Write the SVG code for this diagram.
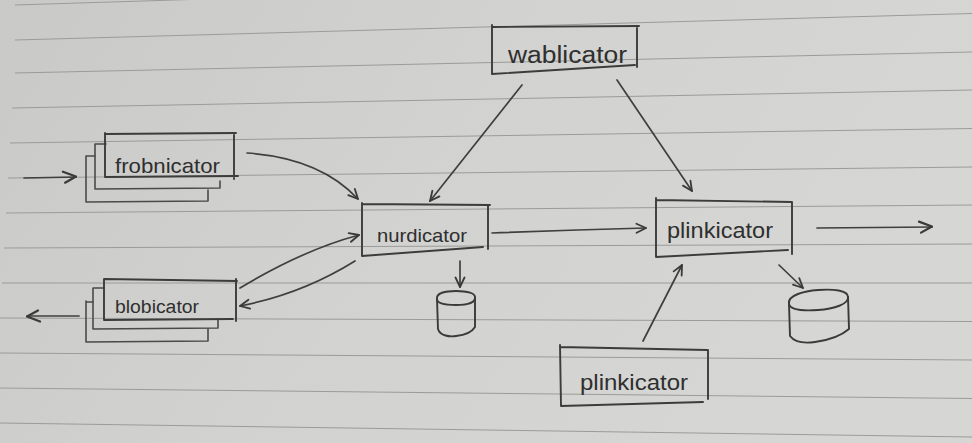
<svg xmlns="http://www.w3.org/2000/svg" width="972" height="443" viewBox="0 0 972 443">
<defs>
<linearGradient id="paper" x1="0" y1="0" x2="1" y2="0.3">
<stop offset="0" stop-color="#c9c9c7"/>
<stop offset="0.5" stop-color="#d2d2d0"/>
<stop offset="1" stop-color="#d6d6d4"/>
</linearGradient>
<marker id="arr" viewBox="0 0 12 12" refX="11" refY="6" markerWidth="12" markerHeight="12" markerUnits="userSpaceOnUse" orient="auto">
<path d="M1.5,1.5 L11,6 L1.5,10.5" fill="none" stroke="#3a3a3a" stroke-width="1.8" stroke-linecap="round" stroke-linejoin="round"/>
</marker>
<marker id="arrBig" viewBox="0 0 16 14" refX="15" refY="7" markerWidth="16" markerHeight="14" markerUnits="userSpaceOnUse" orient="auto">
<path d="M2,1.5 L15,6.5 L4,12.5" fill="none" stroke="#3a3a3a" stroke-width="2.2" stroke-linecap="round" stroke-linejoin="round"/>
</marker>
</defs>
<style>
.rule{fill:none;stroke:#9b9b99;stroke-width:1}
.box{fill:none;stroke:#3c3c3c;stroke-width:1.9;stroke-linecap:round;stroke-linejoin:round}
.stack{fill:none;stroke:#4a4a4a;stroke-width:1.6;stroke-linecap:round;stroke-linejoin:round}
.lbl{font-family:"Liberation Sans","DejaVu Sans",sans-serif;fill:#2f2f2f;}
.con{fill:none;stroke:#3f3f3f;stroke-width:1.7;stroke-linecap:round}
.cyl{fill:none;stroke:#3a3a3a;stroke-width:1.9;stroke-linecap:round;stroke-linejoin:round}
</style>
<rect x="0" y="0" width="972" height="443" fill="url(#paper)"/>
<g id="ruled-lines">
<path class="rule" d="M15,5 L972,-25"/>
<path class="rule" d="M15,40 L972,13.5"/>
<path class="rule" d="M15,73 L972,52"/>
<path class="rule" d="M12,108 L972,90"/>
<path class="rule" d="M10,143 L972,128.5"/>
<path class="rule" d="M8,178 L972,167"/>
<path class="rule" d="M6,213 L972,205"/>
<path class="rule" d="M4,248 L972,244"/>
<path class="rule" d="M2,283 L972,283"/>
<path class="rule" d="M0,318 L972,321.5"/>
<path class="rule" d="M0,353 L972,360"/>
<path class="rule" d="M0,388 L972,398.5"/>
<path class="rule" d="M0,423 L972,437"/>
</g>
<g id="frobnicator">
<path class="stack" d="M86,201 L86,156 L95,156 M86,202 L208,201 L208,190"/>
<path class="stack" d="M95,189 L95,144 L106,144 M95,189 L220,188 L220,181"/>
<path class="box" d="M105,134 L236,133 M234,134 L234,179 M105,133 L105,177 L238,176"/>
<text class="lbl" x="115" y="173" font-size="21" textLength="105" lengthAdjust="spacingAndGlyphs">frobnicator</text>
</g>
<g id="blobicator">
<path class="stack" d="M86,301 L86,342 L208,341 L208,329 M86,302 L93,302"/>
<path class="stack" d="M93,288 L93,329 L218,328 L218,320 M93,288 L104,288"/>
<path class="box" d="M104,279 L237,281 M236,279 L236,321 M104,279 L104,320 L233,319"/>
<text class="lbl" x="115" y="313" font-size="18" textLength="84" lengthAdjust="spacingAndGlyphs">blobicator</text>
</g>
<g id="nurdicator">
<path class="box" d="M362,204 L490,205 M488,205 L488,249 M362,203 L362,256 L483,247"/>
<text class="lbl" x="377" y="242" font-size="19" textLength="90" lengthAdjust="spacingAndGlyphs">nurdicator</text>
</g>
<g id="wablicator">
<path class="box" d="M492,27 L639,26 M637,26 L637,67 M492,25 L492,74 L635,65"/>
<text class="lbl" x="508" y="63" font-size="23" textLength="119" lengthAdjust="spacingAndGlyphs">wablicator</text>
</g>
<g id="plinkicator-main">
<path class="box" d="M656,200 L792,202 M792,202 L792,254 M656,198 L656,257 L788,250"/>
<text class="lbl" x="667" y="238" font-size="22" textLength="106" lengthAdjust="spacingAndGlyphs">plinkicator</text>
</g>
<g id="plinkicator-source">
<path class="box" d="M560,347 L707,350 M708,350 L708,399 M560,345 L561,406 L703,402"/>
<text class="lbl" x="580" y="390" font-size="22" textLength="108" lengthAdjust="spacingAndGlyphs">plinkicator</text>
</g>
<g id="store-nurdicator">
<path class="cyl" d="M437,299 C436,293 445,291 456,291 C467,291 476,293 475,298 C475,303 466,305 456,305 C446,305 437,304 437,299 Z"/>
<path class="cyl" d="M437,299 L438,329 C440,336 450,337 456,336 C465,335 472,332 475,327 L475,298"/>
</g>
<g id="store-plinkicator">
<path class="cyl" d="M789,304 C787,295 805,291 818,290 C833,289 848,290 848,297 C849,304 834,309 818,310 C802,311 790,310 789,304 Z"/>
<path class="cyl" d="M789,304 L790,336 C796,344 808,343 815,342 C830,340 842,335 849,329 L848,297"/>
</g>
<g id="connectors">
<path class="con" d="M24,178 L76,177" marker-end="url(#arrBig)"/>
<path class="con" d="M79,316 L27,316" marker-end="url(#arrBig)"/>
<path class="con" d="M247,153 Q320,158 358,199" marker-end="url(#arr)"/>
<path class="con" d="M240,288 Q303,250 359,235" marker-end="url(#arr)"/>
<path class="con" d="M355,261 Q302,294 240,306" marker-end="url(#arr)"/>
<path class="con" d="M522,85 L430,201" marker-end="url(#arr)"/>
<path class="con" d="M617,80 L692,191" marker-end="url(#arr)"/>
<path class="con" d="M492,233 Q570,230 646,228" marker-end="url(#arr)"/>
<path class="con" d="M817,228 L932,227" marker-end="url(#arrBig)"/>
<path class="con" d="M460,261 L460,287" marker-end="url(#arr)"/>
<path class="con" d="M779,265 L803,288" marker-end="url(#arr)"/>
<path class="con" d="M643,341 L682,265" marker-end="url(#arr)"/>
</g>
</svg>
